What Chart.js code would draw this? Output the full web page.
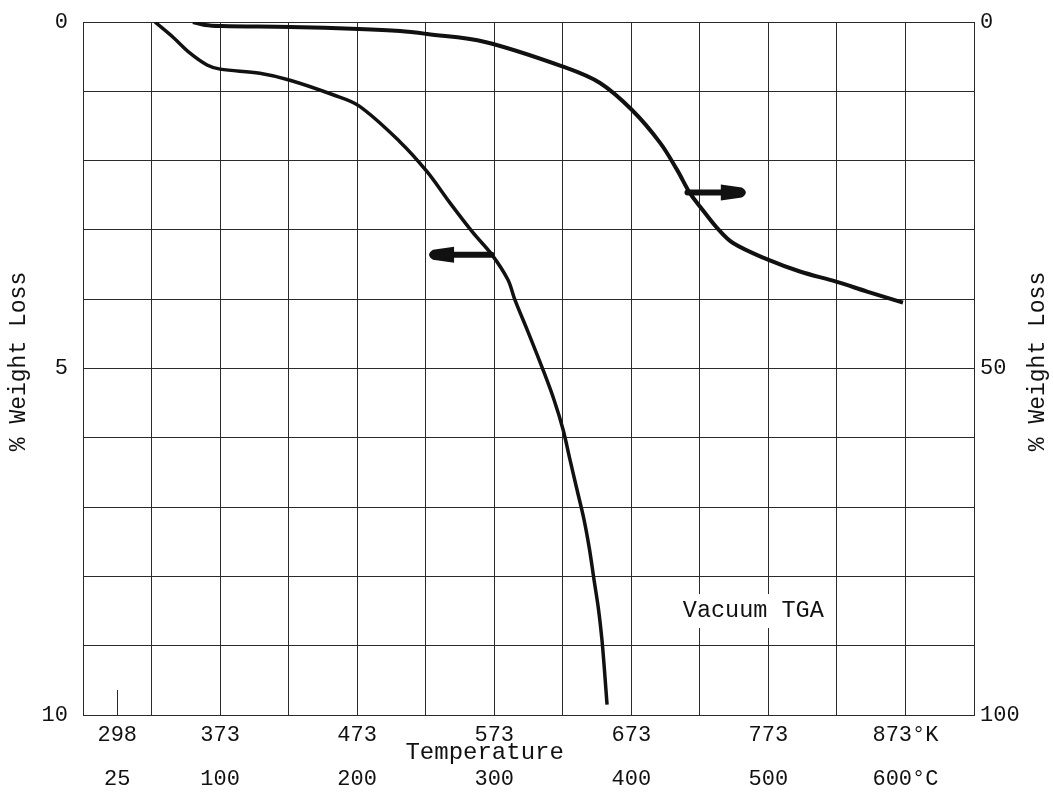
<!DOCTYPE html>
<html>
<head>
<meta charset="utf-8">
<script src="https://cdn.jsdelivr.net/npm/chart.js@4/dist/chart.umd.min.js"></script>
<style>
  body { margin: 0; background: #fff; }
  #wrap { width: 1053px; height: 793px; }
</style>
</head>
<body>
<div id="wrap"><canvas id="tga" width="1053" height="793"></canvas></div>
<script>
// left-axis curve (0-10 % weight loss)
const kelvinLeft = [325.5, 338.7, 351.1, 363.5, 373, 402, 424, 455.4, 474.3, 504.3, 524, 540.7, 557.5, 571.4,
  583, 588.1, 597, 608.6, 616.6, 623.2, 628.3, 633.4, 638.5, 642.5, 645.8, 649.1, 651.6, 653.4, 655.3];
const lossLeft = [0, 0.22, 0.45, 0.62, 0.68, 0.74, 0.84, 1.05, 1.21, 1.73, 2.16, 2.61, 3.04, 3.36,
  3.72, 4.01, 4.44, 5.02, 5.45, 5.88, 6.32, 6.75, 7.18, 7.61, 8.05, 8.48, 8.92, 9.35, 9.85];

// right-axis curve (0-100 % weight loss)
const kelvinRight = [353.2, 362, 374.4, 424, 474.3, 504.3, 524, 566.3, 623.9, 650.2, 673.5, 693.9, 706.3,
  715.8, 723.8, 735.5, 747.2, 772.7, 796, 823, 845, 871.2];
const lossRight = [0, 0.43, 0.58, 0.72, 1.0, 1.3, 1.73, 2.88, 6.49, 8.8, 12.7, 17.4, 21.3,
  24.7, 26.8, 29.7, 31.9, 34.3, 36.0, 37.5, 38.9, 40.5];

const kelvinTicks = [298, 373, 473, 573, 673, 773, 873];
const celsiusTicks = [25, 100, 200, 300, 400, 500, 600];
const leftTicks = [0, 5, 10];
const rightTicks = [0, 50, 100];

const FONT = "'Liberation Mono', 'DejaVu Sans Mono', monospace";
const INK = '#111';
const GRID = '#2a2a2a';

function pts(xs, ys) {
  return xs.map((x, i) => ({ x: x, y: ys[i] }));
}

function verticalTitle(ctx, text, cx, cy) {
  ctx.save();
  ctx.translate(cx, cy);
  ctx.rotate(-Math.PI / 2);
  ctx.fillText(text, 0, 0);
  ctx.restore();
}

// annotations: marker at 298 K, label, arrows, axis titles
const extras = {
  id: 'extras',
  afterDatasetsDraw(chart) {
    const ctx = chart.ctx;
    const x = chart.scales.x, y = chart.scales.y, y2 = chart.scales.y2;
    const area = chart.chartArea;
    ctx.save();

    // short mark at room temperature
    ctx.strokeStyle = GRID;
    ctx.lineWidth = 1;
    const px = Math.round(x.getPixelForValue(298)) + 0.5;
    ctx.beginPath();
    ctx.moveTo(px, area.bottom);
    ctx.lineTo(px, area.bottom - 25);
    ctx.stroke();

    // label with white box
    ctx.font = '23.5px ' + FONT;
    ctx.textAlign = 'center';
    ctx.textBaseline = 'middle';
    const lx = x.getPixelForValue(762), ly = y.getPixelForValue(8.5);
    const w = ctx.measureText('Vacuum TGA').width;
    ctx.fillStyle = '#fff';
    ctx.fillRect(lx - w / 2 - 8, ly - 17, w + 16, 34);
    ctx.fillStyle = INK;
    ctx.fillText('Vacuum TGA', lx, ly);

    // x axis title, between the two rows of labels
    ctx.font = '24px ' + FONT;
    ctx.fillText('Temperature', x.getPixelForValue(566), area.bottom + 38);

    // arrows
    drawArrow(ctx, x.getPixelForValue(714), x.getPixelForValue(758), y2.getPixelForValue(24.6));
    drawArrow(ctx, x.getPixelForValue(571), x.getPixelForValue(524), y.getPixelForValue(3.36));

    // both axis titles read bottom to top
    ctx.font = '23px ' + FONT;
    const midY = (area.top + area.bottom) / 2 - 7;
    verticalTitle(ctx, '% Weight Loss', 19, midY);
    verticalTitle(ctx, '% Weight Loss', y2.right - 15, midY);
    ctx.restore();
  }
};

function drawArrow(ctx, x0, x1, yy) {
  const dir = x1 > x0 ? 1 : -1;
  const base = x1 - dir * 27;
  ctx.save();
  ctx.strokeStyle = INK;
  ctx.fillStyle = INK;
  ctx.lineWidth = 6;
  ctx.lineCap = 'round';
  ctx.beginPath();
  ctx.moveTo(x0, yy);
  ctx.lineTo(base + dir * 4, yy);
  ctx.stroke();
  ctx.beginPath();
  ctx.moveTo(base, yy - 8);
  ctx.lineTo(x1 - dir * 6, yy - 5);
  ctx.quadraticCurveTo(x1 + dir * 2, yy, x1 - dir * 6, yy + 5);
  ctx.lineTo(base, yy + 8);
  ctx.closePath();
  ctx.fill();
  ctx.restore();
}

const gridValues = [];
for (let k = 273; k <= 923; k += 50) gridValues.push(k);

new Chart(document.getElementById('tga'), {
  type: 'line',
  data: {
    datasets: [
      {
        data: pts(kelvinLeft, lossLeft),
        yAxisID: 'y',
        borderColor: INK,
        borderWidth: 3.5,
        pointRadius: 0,
        tension: 0.35,
        fill: false
      },
      {
        data: pts(kelvinRight, lossRight),
        yAxisID: 'y2',
        borderColor: INK,
        borderWidth: 4,
        pointRadius: 0,
        tension: 0.35,
        fill: false
      }
    ]
  },
  options: {
    responsive: false,
    animation: false,
    layout: { padding: { top: 22, left: 0, right: 0, bottom: 0 } },
    plugins: { legend: { display: false }, tooltip: { enabled: false } },
    scales: {
      x: {
        type: 'linear',
        position: 'bottom',
        weight: 0,
        min: 273,
        max: 923,
        afterBuildTicks: (axis) => {
          axis.ticks = gridValues.concat([298]).sort((a, b) => a - b).map(v => ({ value: v }));
        },
        afterFit: (axis) => { axis.height = 50; },
        grid: {
          color: (c) => (c.tick && c.tick.value === 298 ? 'rgba(0,0,0,0)' : GRID),
          lineWidth: 1,
          drawTicks: false
        },
        border: { color: GRID },
        ticks: {
          autoSkip: false,
          maxRotation: 0,
          padding: 7,
          color: INK,
          font: { family: FONT, size: 22 },
          callback: (v) => (kelvinTicks.includes(v) ? (v === 873 ? '873°K' : String(v)) : '')
        }
      },
      xC: {
        type: 'linear',
        position: 'bottom',
        weight: 1,
        min: 0,
        max: 650,
        afterBuildTicks: (axis) => {
          axis.ticks = celsiusTicks.map(v => ({ value: v }));
        },
        afterFit: (axis) => { axis.height = 28; },
        grid: { display: false, drawTicks: false },
        border: { display: false },
        ticks: {
          autoSkip: false,
          maxRotation: 0,
          padding: 1,
          color: INK,
          font: { family: FONT, size: 22 },
          callback: (v) => (v === 600 ? '600°C' : String(v))
        }
      },
      y: {
        type: 'linear',
        position: 'left',
        reverse: true,
        min: 0,
        max: 10,
        afterBuildTicks: (axis) => {
          const t = [];
          for (let v = 0; v <= 10; v++) t.push({ value: v });
          axis.ticks = t;
        },
        afterFit: (axis) => {
          axis.width = 83;
          axis.paddingTop = 5;
          axis.paddingBottom = 5;
        },
        grid: { color: GRID, lineWidth: 1, drawTicks: false },
        border: { color: GRID },
        ticks: {
          padding: 15,
          color: INK,
          font: { family: FONT, size: 22 },
          callback: (v) => (leftTicks.includes(v) ? String(v) : '')
        }
      },
      y2: {
        type: 'linear',
        position: 'right',
        reverse: true,
        min: 0,
        max: 100,
        afterBuildTicks: (axis) => {
          axis.ticks = rightTicks.map(v => ({ value: v }));
        },
        afterFit: (axis) => {
          axis.width = 79;
          axis.paddingTop = 5;
          axis.paddingBottom = 5;
        },
        grid: { display: false, drawTicks: false },
        border: { color: GRID },
        ticks: {
          padding: 6,
          color: INK,
          font: { family: FONT, size: 22 },
          callback: (v) => String(v)
        }
      }
    }
  },
  plugins: [extras]
});
</script>
</body>
</html>
